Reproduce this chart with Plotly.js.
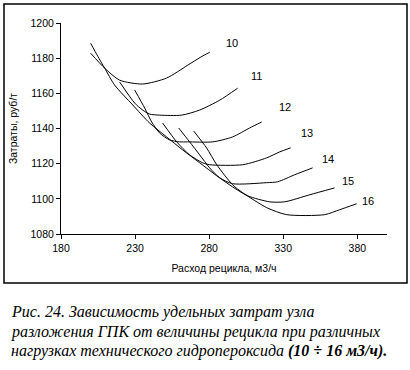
<!DOCTYPE html>
<html>
<head>
<meta charset="utf-8">
<script src="https://cdn.plot.ly/plotly-3.0.1.min.js"></script>
<style>
html,body{margin:0;padding:0;background:#fff;}
#chart{width:410px;height:370px;}
</style>
</head>
<body>
<div id="chart"></div>
<script>
// Recycle flow (m3/h) and specific cost (rub/t) for each hydroperoxide load
const x10 = [200.0, 209.5, 219.6, 235.1, 251.3, 265.5, 274.3, 280.4];
const y10 = [1182.8, 1174.3, 1167.5, 1165.3, 1168.7, 1176.0, 1180.6, 1183.4];

const x11 = [219.6, 229.7, 235.1, 239.8, 246.6, 261.4, 273.6, 287.1, 299.2];
const y11 = [1166.4, 1154.5, 1150.5, 1148.2, 1147.6, 1147.6, 1150.5, 1156.1, 1162.9];

const x12 = [229.7, 236.5, 241.2, 246.6, 253.3, 260.1, 265.5, 282.4, 295.8, 307.3, 315.4];
const y12 = [1161.9, 1151.6, 1143.7, 1137.4, 1133.5, 1132.4, 1132.4, 1132.4, 1135.2, 1140.3, 1143.7];

const x13 = [248.6, 258.1, 266.8, 275.6, 280.3, 302.6, 318.8, 327.6, 335.0];
const y13 = [1143.1, 1132.4, 1125.0, 1120.5, 1119.4, 1119.4, 1123.3, 1126.7, 1129.0];

const x14 = [259.4, 266.8, 273.6, 280.3, 287.1, 295.8, 318.8, 326.2, 337.7, 349.8];
const y14 = [1140.3, 1132.4, 1125.0, 1117.6, 1112.0, 1108.6, 1109.2, 1109.7, 1113.7, 1117.6];

const x15 = [200.0, 204.8, 209.5, 216.2, 228.4, 239.8, 251.3, 262.1, 273.6, 285.1, 295.8, 306.0, 320.8, 330.9, 347.8, 364.6];
const y15 = [1188.5, 1181.1, 1174.3, 1164.7, 1153.4, 1143.1, 1135.2, 1127.8, 1120.5, 1113.1, 1106.8, 1101.7, 1098.3, 1098.3, 1102.3, 1106.2];

const x16 = [269.5, 278.3, 285.1, 295.8, 302.6, 318.8, 332.3, 357.9, 368.0, 379.5];
const y16 = [1138.6, 1128.9, 1119.4, 1108.0, 1103.5, 1095.0, 1091.0, 1091.0, 1093.8, 1097.2];

const curveNames = ['10', '11', '12', '13', '14', '15', '16'];
const labelX = [295.2, 312.0, 331.0, 345.8, 360.2, 373.7, 387.2];
const labelY = [1188.5, 1169.8, 1152.2, 1137.6, 1122.6, 1110.2, 1098.9];

const xTicks = [180, 230, 280, 330, 380];
const yTicks = [1080, 1100, 1120, 1140, 1160, 1180, 1200];

const xTitle = 'Расход рецикла, м3/ч';
const yTitle = 'Затраты, руб/т';
const captionLines = [
  '<i>Рис. 24. Зависимость удельных затрат узла</i>',
  '<i>разложения ГПК от величины рецикла при различных</i>',
  '<i>нагрузках технического гидропероксида </i><b><i>(10 ÷ 16 м3/ч).</i></b>'
];

const xsAll = [x10, x11, x12, x13, x14, x15, x16];
const ysAll = [y10, y11, y12, y13, y14, y15, y16];

// Layout geometry (pixels)
const W = 410, H = 370;
const M = {l: 61, r: 23, t: 23, b: 136};
const pw = W - M.l - M.r, ph = H - M.t - M.b;
const px2paper = (px) => (px - M.l) / pw;
const py2paper = (py) => (H - M.b - py) / ph;

const traces = xsAll.map((xs, i) => ({
  x: xs, y: ysAll[i], name: curveNames[i],
  type: 'scatter', mode: 'lines',
  line: {color: '#000', width: 1, shape: 'spline', smoothing: 0.7},
  hoverinfo: 'skip', showlegend: false
}));

const annotations = curveNames.map((n, i) => ({
  x: labelX[i], y: labelY[i], xref: 'x', yref: 'y',
  text: n, showarrow: false,
  font: {family: 'Liberation Sans, Arial, sans-serif', size: 11, color: '#000'}
}));

const capY = [312, 332, 351];
captionLines.forEach((t, i) => {
  annotations.push({
    x: px2paper(9), y: py2paper(capY[i]), xref: 'paper', yref: 'paper',
    xanchor: 'left', yanchor: 'middle', text: t, showarrow: false,
    font: {family: '"Liberation Serif", "DejaVu Serif", serif', size: 16, color: '#000'}
  });
});

const layout = {
  width: W, height: H,
  margin: M,
  paper_bgcolor: '#fff', plot_bgcolor: '#fff',
  showlegend: false,
  font: {family: 'Liberation Sans, Arial, sans-serif', size: 10, color: '#000'},
  xaxis: {
    range: [180, 400], tickvals: xTicks, ticktext: xTicks.map(String),
    ticks: 'outside', ticklen: 4, tickwidth: 1, tickcolor: '#000',
    showline: true, linecolor: '#000', linewidth: 1,
    showgrid: false, zeroline: false,
    tickfont: {size: 10.5, color: '#000'},
    title: {text: xTitle, font: {size: 10.5, color: '#000'}, standoff: 12}
  },
  yaxis: {
    range: [1080, 1200], tickvals: yTicks, ticktext: yTicks.map(String),
    ticks: 'outside', ticklen: 4, tickwidth: 1, tickcolor: '#000',
    showline: true, linecolor: '#000', linewidth: 1,
    showgrid: false, zeroline: false,
    tickfont: {size: 10.5, color: '#000'},
    title: {text: yTitle, font: {size: 10.5, color: '#000'}, standoff: 10}
  },
  shapes: [{
    type: 'rect', xref: 'paper', yref: 'paper',
    x0: px2paper(4), x1: px2paper(407), y0: py2paper(283), y1: py2paper(4),
    line: {color: '#000', width: 1.5}, fillcolor: 'rgba(0,0,0,0)', layer: 'below'
  }],
  annotations: annotations
};

Plotly.newPlot('chart', traces, layout, {displayModeBar: false, staticPlot: true});
</script>
</body>
</html>
